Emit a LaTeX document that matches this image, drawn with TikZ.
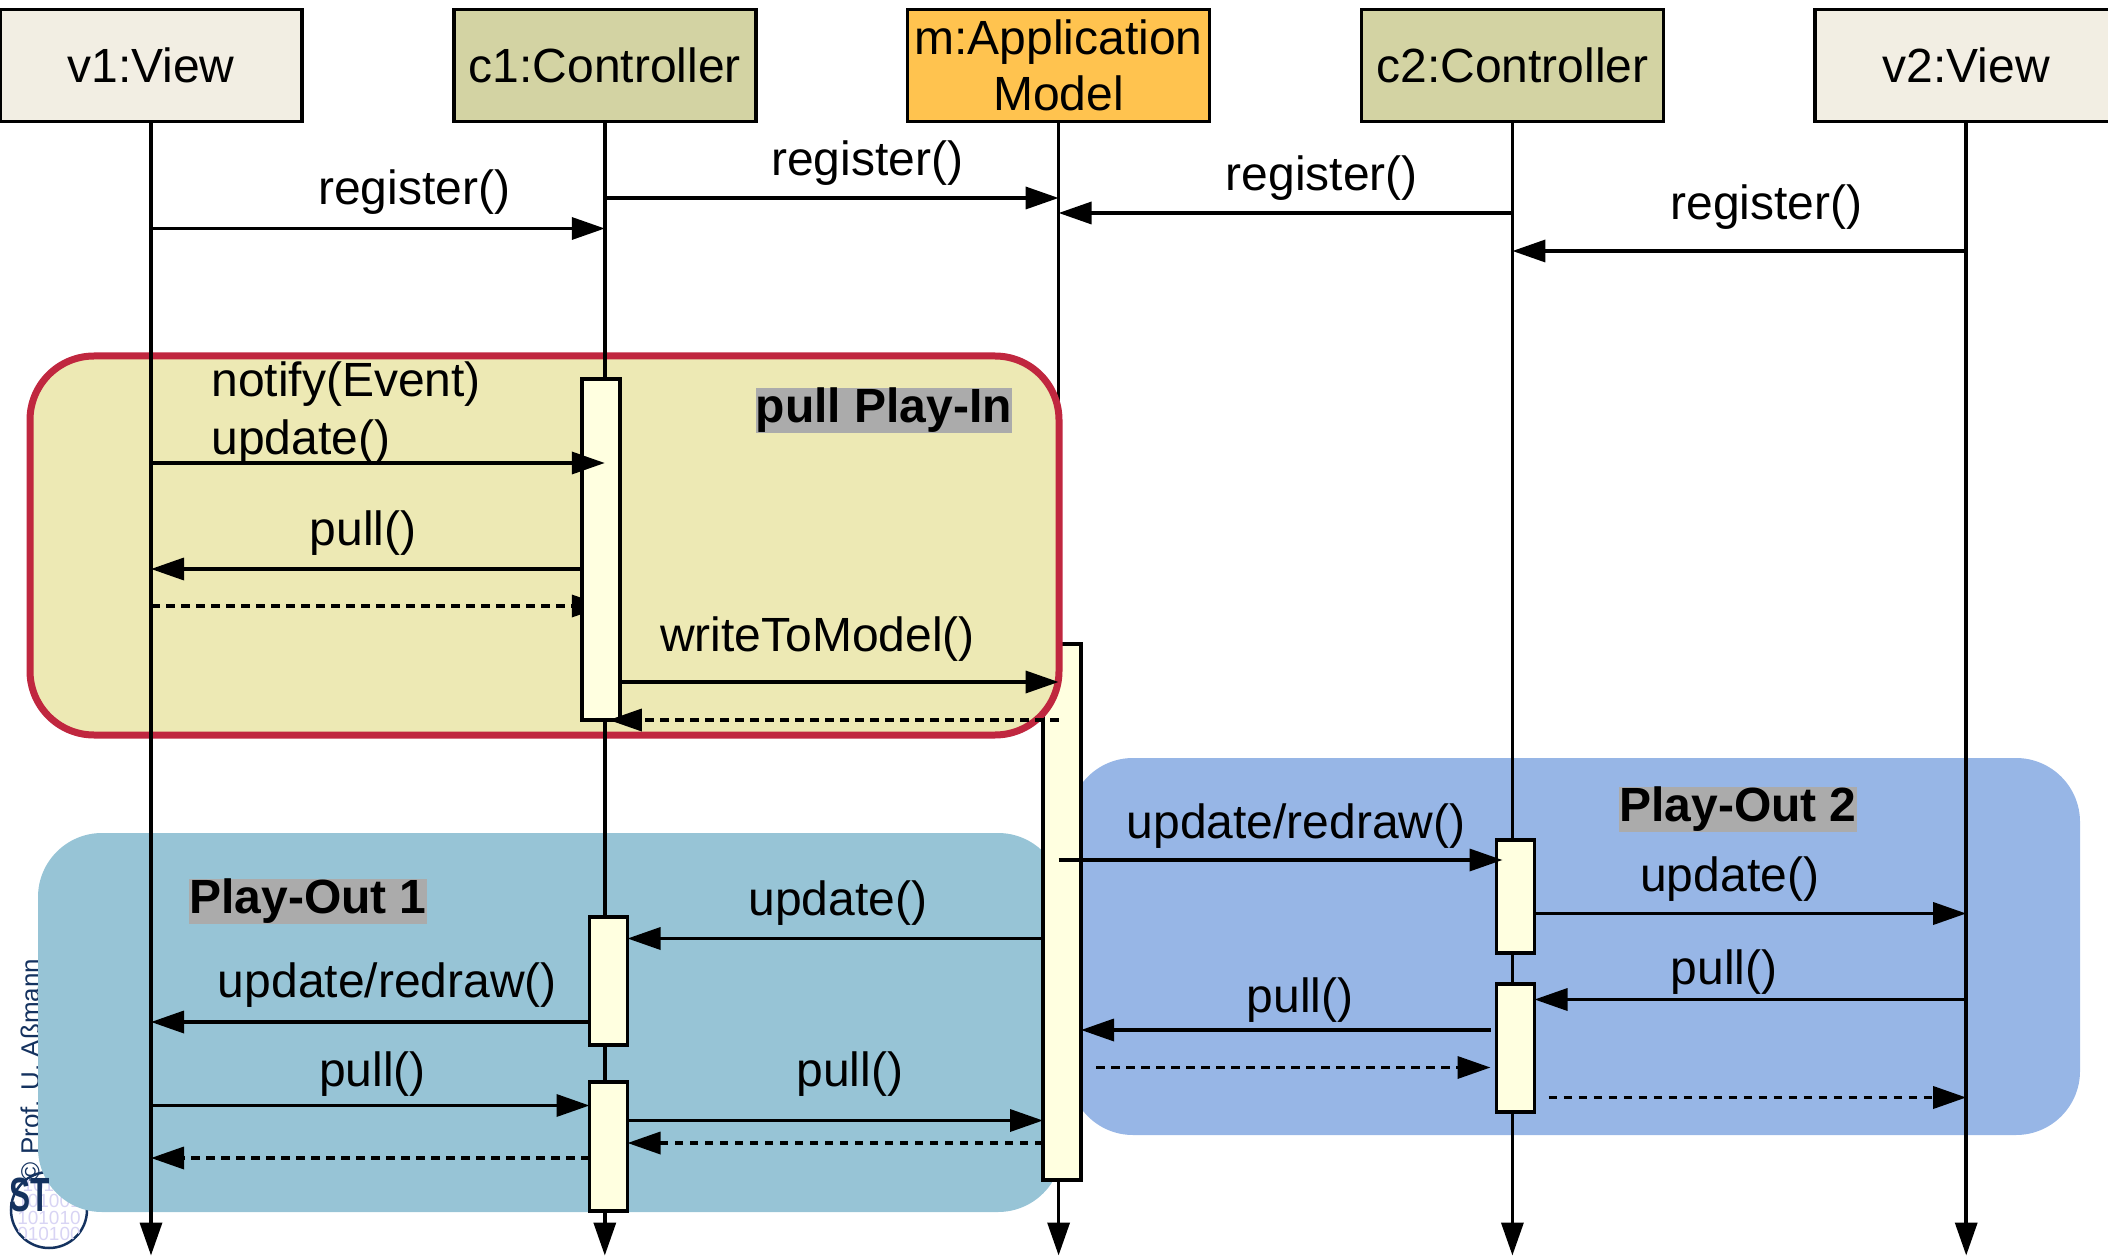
\documentclass[tikz,border=0pt]{standalone}
\usepackage{fontspec}
\setmainfont{Liberation Sans}
\usetikzlibrary{arrows.meta,positioning}
\definecolor{viewfill}{HTML}{F2EEE3}
\definecolor{ctrlfill}{HTML}{D3D3A3}
\definecolor{modelfill}{HTML}{FFC34F}
\definecolor{actfill}{HTML}{FFFFE0}
\definecolor{inred}{HTML}{C0273F}
\definecolor{infill}{HTML}{EDE9B4}
\definecolor{outonefill}{HTML}{97C4D6}
\definecolor{outtwofill}{HTML}{97B6E6}
\definecolor{logoblue}{HTML}{14325F}
\definecolor{logobits}{HTML}{D8D4F4}
\tikzset{
  head/.style={rectangle,draw=black,line width=1.75pt,minimum width=151pt,minimum height=56pt,
    inner sep=0pt,outer sep=0pt,align=center,font=\fontsize{24}{28}\selectfont},
  act/.style={rectangle,draw=black,line width=1.75pt,fill=actfill,minimum width=19pt,inner sep=0pt,outer sep=0pt},
  region/.style={rectangle,rounded corners=32pt,inner sep=0pt,outer sep=0pt},
  life/.style={-{Triangle[length=16.5pt,width=11pt]},line width=1.75pt},
  msg/.style={-{Triangle[length=16.5pt,width=11pt]},line width=1.75pt},
  ret/.style={msg,dash pattern=on 4.25pt off 3.25pt},
  lbl/.style={above=#1,align=left,font=\fontsize{24}{29}\selectfont},
  tag/.style={fill=black!33,inner sep=0pt,font=\fontsize{24}{28}\selectfont\bfseries},
}
\begin{document}
\begin{tikzpicture}[x=0.5pt,y=-0.5pt,node distance=75.9pt]
  \useasboundingbox (0,0) rectangle (2108,1256);

  % Lifeline heads
  \node[head,fill=viewfill] (v1) at (151,65.5) {v1:View};
  \node[head,fill=ctrlfill,right=of v1] (c1) {c1:Controller};
  \node[head,fill=modelfill,right=of c1] (m) {m:Application\\Model};
  \node[head,fill=ctrlfill,right=of m] (c2) {c2:Controller};
  \node[head,fill=viewfill,right=of c2] (v2) {v2:View};

  % Rows
  \foreach \n/\y in {end/1255.5,regA/228.5,regB/198,regC/213,regD/251,
    notify/463,pullA/569,retA/606,write/682,retB/720,
    redrawB/860,updB/913.5,pullB/999.5,pullC/1030,retC/1067.5,retD/1097.5,
    updA/938.5,redrawA/1022,pullD/1105.5,pullE/1120.5,retE/1143,retF/1158}
    \coordinate (\n) at (0,\y);

  % Watermark
  \node[rotate=90,text=logoblue,font=\fontsize{13}{15}\selectfont] (mark) at (30,1070) {© Prof. U. Aßmann};
  \node[circle,draw=logoblue,line width=1.25pt,minimum size=38pt,inner sep=0pt] (logo) at (49,1210) {};
  \begin{scope}
    \clip (49,1210) circle (37.5);
    \node[text=logobits,font=\fontsize{9.5}{8.1}\selectfont,align=center] (bits) at (49,1209.5) {10101\\101001\\101010\\010100};
  \end{scope}

  % Play-Out PARTS
  \node[region,fill=outonefill,minimum width=512pt,minimum height=189.5pt] (po1) at (550,1022.5) {};
  \node[region,fill=outtwofill,minimum width=505.5pt,minimum height=188.5pt] (po2) at (1574.5,946.5) {};
  \node[text=logoblue,font=\fontsize{24}{26}\selectfont\bfseries,xscale=.66] (st) at (30,1195) {ST};

  % Model lifeline and the Play-In box over it
  \draw[life] (m) -- (m |- end);
  \node[act,minimum height=268pt] (am) at (1062,912) {};
  \node[region,fill=infill,draw=inred,line width=3.5pt,minimum width=514.5pt,minimum height=189.5pt] (pi) at (544.5,545.5) {};

  \draw[life] (v1) -- (v1 |- end);
  \draw[life] (c1) -- (c1 |- end);
  \draw[life] (c2) -- (c2 |- end);
  \draw[life] (v2) -- (v2 |- end);

  \node[tag] (tagin) at (884,410.5) {pull Play-In};
  \node[tag] (tagtwo) at (1738,809.5) {Play-Out 2};
  \node[tag] (tagone) at (308,901.5) {Play-Out 1};

  % Activations
  \draw[ret] (v1 |- retA) -- (c1 |- retA);
  \node[act,minimum height=170.5pt] (a1) at (601,549.5) {};
  \node[act,minimum height=64pt] (a2) at (608.5,981) {};
  \node[act,minimum height=64.5pt] (a3) at (608.5,1146.5) {};
  \node[act,minimum height=56.5pt] (a4) at (1515.5,896.5) {};
  \node[act,minimum height=64pt] (a5) at (1515.5,1048) {};

  % Register
  \draw[msg] (v1 |- regA) -- node[lbl=3pt,pos=.58] (tregA) {register()} (c1 |- regA);
  \draw[msg] (c1 |- regB) -- node[lbl=2.3pt,pos=.578] (tregB) {register()} (m |- regB);
  \draw[msg] (c2 |- regC) -- node[lbl=2.3pt,pos=.42] (tregC) {register()} (m |- regC);
  \draw[msg] (v2 |- regD) -- node[lbl=6.8pt,pos=.44] (tregD) {register()} (c2 |- regD);

  % Play-In
  \draw[msg] (v1 |- notify) -- node[lbl=-5pt,pos=.43] (tnotify) {notify(Event)\\update()} (c1 |- notify);
  \draw[msg] (a1.west |- pullA) -- node[lbl=2.8pt,pos=.508] (tpullA) {pull()} (v1 |- pullA);
  \draw[msg] (a1.east |- write) -- node[lbl=6.3pt,pos=.45] (twrite) {writeToModel()} (m |- write);
  \draw[ret] (m |- retB) -- ([xshift=2pt]c1 |- retB);

  % Play-Out 2
  \draw[msg] (m |- redrawB) -- node[lbl=1.6pt,pos=.535] (tredrawB) {update/redraw()} ([xshift=3pt]a4.west |- redrawB);
  \draw[msg] (a4.east |- updB) -- node[lbl=1.6pt,pos=.452] (tupdB) {update()} (v2 |- updB);
  \draw[msg] (v2 |- pullB) -- node[lbl=-1.7pt,pos=.561] (tpullB) {pull()} (a5.east |- pullB);
  \draw[msg] ([xshift=-3pt]a5.west |- pullC) -- node[lbl=-.4pt,pos=.465] (tpullC) {pull()} (am.east |- pullC);
  \draw[ret] ([xshift=7.5pt]am.east |- retC) -- ([xshift=-3pt]a5.west |- retC);
  \draw[ret] ([xshift=7pt]a5.east |- retD) -- (v2 |- retD);

  % Play-Out 1
  \draw[msg] (am.west |- updA) -- node[lbl=2.3pt,pos=.494] (tupdA) {update()} (a2.east |- updA);
  \draw[msg] (a2.west |- redrawA) -- node[lbl=3pt,pos=.461] (tredrawA) {update/redraw()} (v1 |- redrawA);
  \draw[msg] (v1 |- pullD) -- node[lbl=.3pt,pos=.505] (tpullD) {pull()} (a3.west |- pullD);
  \draw[msg] (a3.east |- pullE) -- node[lbl=7.7pt,pos=.535] (tpullE) {pull()} (am.west |- pullE);
  \draw[ret] (am.west |- retE) -- (a3.east |- retE);
  \draw[ret] (a3.west |- retF) -- (v1 |- retF);
\end{tikzpicture}
\end{document}
